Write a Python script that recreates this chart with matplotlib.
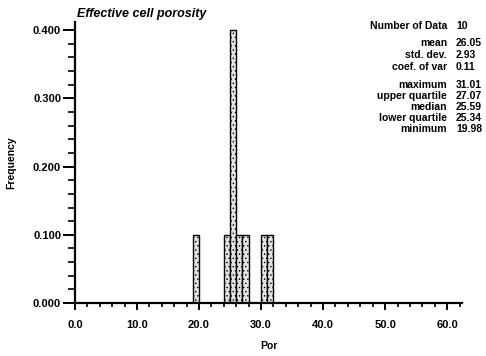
import matplotlib.pyplot as plt
from matplotlib.ticker import MultipleLocator, FormatStrFormatter

plt.rcParams['font.family'] = ['Liberation Sans', 'DejaVu Sans']
plt.rcParams['hatch.color'] = '#a0a0a0'
plt.rcParams['hatch.linewidth'] = 0.5

# histogram of Por, bins of width 1
binLeft = [19, 24, 25, 26, 27, 30, 31]
frequency = [0.1, 0.1, 0.4, 0.1, 0.1, 0.1, 0.1]
binWidth = 1.0

statLabels = ['Number of Data', 'mean', 'std. dev.', 'coef. of var',
              'maximum', 'upper quartile', 'median', 'lower quartile', 'minimum']
statValues = ['10', '26.05', '2.93', '0.11',
              '31.01', '27.07', '25.59', '25.34', '19.98']

fig = plt.figure(figsize=(4.86, 3.56), dpi=100)
# axes box in pixels: left 75, right 462, top 22, bottom 303
ax = fig.add_axes([75 / 486, 1 - 303 / 356, (462 - 75) / 486, (303 - 22) / 356])

ax.bar(binLeft, frequency, width=binWidth, align='edge',
       facecolor='#e4e4e4', edgecolor='black', linewidth=1.0, hatch='....')

ax.set_xlim(0, 62.4)
ax.set_ylim(0, 0.412)
ax.spines['top'].set_visible(False)
ax.spines['right'].set_visible(False)
ax.spines['left'].set_linewidth(1.6)
ax.spines['bottom'].set_linewidth(1.6)

ax.xaxis.set_major_locator(MultipleLocator(10))
ax.xaxis.set_minor_locator(MultipleLocator(2))
ax.yaxis.set_major_locator(MultipleLocator(0.1))
ax.yaxis.set_minor_locator(MultipleLocator(0.02))
ax.xaxis.set_major_formatter(FormatStrFormatter('%.1f'))
ax.yaxis.set_major_formatter(FormatStrFormatter('%.3f'))

ax.tick_params(axis='y', which='major', length=9, width=1.4, pad=1, labelsize=8)
ax.tick_params(axis='y', which='minor', length=5, width=1.2)
ax.tick_params(axis='x', which='major', length=5, width=1.4, pad=7, labelsize=8)
ax.tick_params(axis='x', which='minor', length=3, width=1.2)
for lab in ax.get_xticklabels() + ax.get_yticklabels():
    lab.set_fontweight('bold')

ax.set_xlabel('Por', fontsize=7.5, fontweight='bold', labelpad=8)
ax.set_ylabel('Frequency', fontsize=7.5, fontweight='bold', labelpad=12)

fig.text(77 / 486, 1 - 14 / 356, 'Effective cell porosity', fontsize=9,
         fontweight='bold', fontstyle='italic', va='center', ha='left')

rowY = [26, 42.5, 55, 67.5, 85, 96, 107, 118, 129]
for lab, val, y in zip(statLabels, statValues, rowY):
    fig.text(447 / 486, 1 - y / 356, lab, fontsize=7.5, fontweight='bold',
             ha='right', va='center')
    fig.text(456 / 486, 1 - y / 356, val, fontsize=7.5, fontweight='bold',
             ha='left', va='center')

fig.savefig('out.png', dpi=100)
